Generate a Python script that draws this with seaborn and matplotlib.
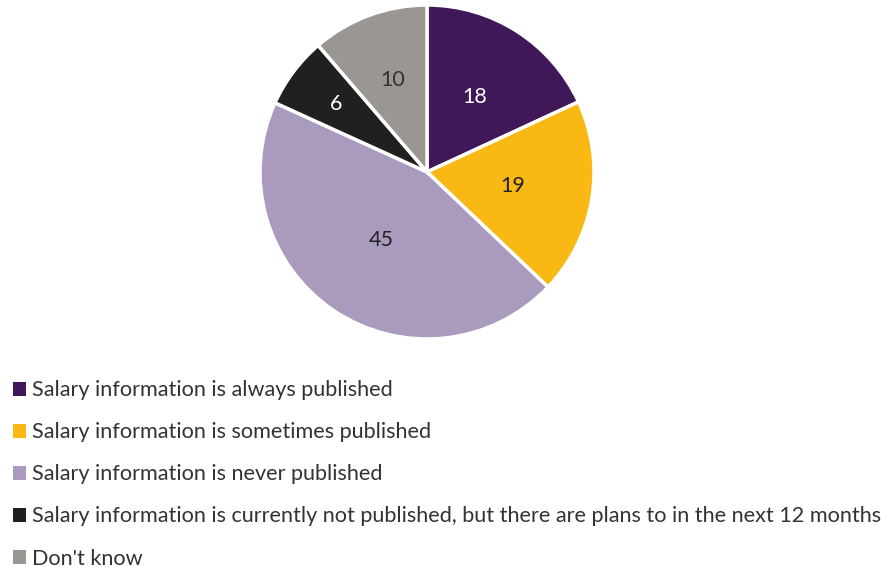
import matplotlib
matplotlib.use("Agg")
import matplotlib.pyplot as plt
import seaborn as sns
import numpy as np
from matplotlib.patches import Patch

# data
categories = [
    "Salary information is always published",
    "Salary information is sometimes published",
    "Salary information is never published",
    "Salary information is currently not published, but there are plans to in the next 12 months",
    "Don't know",
]
# slice shares as drawn (%), and the labels printed on them
shares = [18.1, 19.0, 44.7, 6.9, 11.3]
labels = ["18", "19", "45", "6", "10"]
colors = ["#40185a", "#f9b814", "#a99abe", "#1f201f", "#9a9692"]
label_colors = ["white", "#222222", "#222222", "white", "#333333"]
label_radius = [0.53, 0.52, 0.49, 0.68, 0.59]

sns.set_theme(style="white")
plt.rcParams["font.family"] = ["Lato", "DejaVu Sans"]

fig = plt.figure(figsize=(8.87, 5.67), dpi=100)
ax = fig.add_axes([260 / 887, 228 / 567, 334 / 887, 334 / 567])

wedges, _ = ax.pie(shares, colors=colors, startangle=90, counterclock=False,
                   wedgeprops=dict(edgecolor="white", linewidth=2.5))
ax.set_aspect("equal")
ax.set_xlim(-1.0, 1.0)
ax.set_ylim(-1.0, 1.0)

for w, lab, c, r in zip(wedges, labels, label_colors, label_radius):
    mid = np.deg2rad((w.theta1 + w.theta2) / 2)
    ax.text(r * np.cos(mid), r * np.sin(mid), lab, ha="center", va="center",
            fontsize=15.5, color=c)

handles = [Patch(facecolor=c, edgecolor="none") for c in colors]
fig.legend(handles, categories, loc="upper left", bbox_to_anchor=(13 / 887, 0.329),
           frameon=False, fontsize=15.6, handlelength=0.6, handleheight=0.6,
           handletextpad=0.3, labelspacing=1.016, borderpad=0, borderaxespad=0,
           labelcolor="#333333")

fig.savefig("out.png", dpi=100)
